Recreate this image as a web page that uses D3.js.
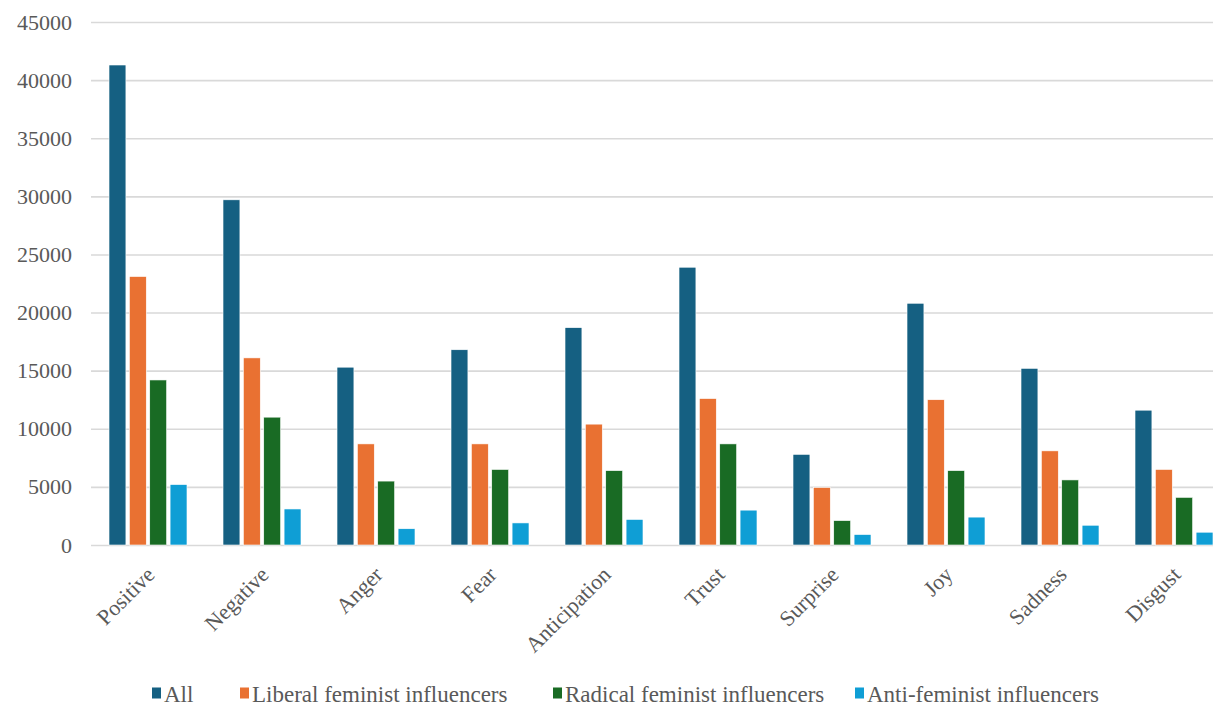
<!DOCTYPE html>
<html>
<head>
<meta charset="utf-8">
<script src="https://cdn.jsdelivr.net/npm/d3@7"></script>
<style>
  html, body { margin: 0; padding: 0; background: #fff; }
  svg { display: block; }
  svg text { font-family: "Liberation Serif", "Times New Roman", serif !important; }
</style>
</head>
<body>
<svg id="chart" width="1215" height="706"></svg>
<script>
// Emotion categories along the x axis
const categories = ["Positive", "Negative", "Anger", "Fear", "Anticipation",
                    "Trust", "Surprise", "Joy", "Sadness", "Disgust"];

// Series names (legend order)
const seriesNames = ["All", "Liberal feminist influencers",
                     "Radical feminist influencers", "Anti-feminist influencers"];

// Word counts per category for each series
const allValues     = [41300, 29700, 15300, 16800, 18700, 23900, 7800, 20800, 15200, 11600];
const liberalValues = [23100, 16100, 8700, 8700, 10400, 12600, 4950, 12500, 8100, 6500];
const radicalValues = [14200, 11000, 5500, 6500, 6400, 8700, 2100, 6400, 5600, 4100];
const antiValues    = [5200, 3100, 1400, 1900, 2200, 3000, 900, 2400, 1700, 1100];

const yTicks = [0, 5000, 10000, 15000, 20000, 25000, 30000, 35000, 40000, 45000];

const colors = ["#156082", "#E97132", "#196B24", "#0F9ED5"];
const TEXT_COLOR = "#595959";

const seriesValues = [allValues, liberalValues, radicalValues, antiValues];
const rows = categories.map((c, i) => ({
  category: c,
  values: seriesNames.map((s, j) => ({ series: s, value: seriesValues[j][i], idx: j }))
}));

const svg = d3.select("#chart");
const plotLeft = 91, gridRight = 1213;
const plotTop = 22, plotBottom = 545;

const x = d3.scaleBand()
  .domain(categories)
  .range([plotLeft, plotLeft + 10 * 114])
  .paddingInner(0.316)
  .paddingOuter(0.158);

const xInner = d3.scaleBand()
  .domain(seriesNames)
  .range([0, x.bandwidth()])
  .paddingInner(0.17);

const y = d3.scaleLinear()
  .domain([0, 45000])
  .range([plotBottom, plotTop]);

// Horizontal gridlines + y labels
const yAxis = svg.append("g")
  .attr("transform", `translate(${plotLeft},0)`)
  .call(d3.axisLeft(y).tickValues(yTicks).tickSize(-(gridRight - plotLeft)).tickPadding(19).tickFormat(d3.format("d")));
yAxis.select(".domain").remove();
yAxis.selectAll(".tick line").attr("stroke", "#d9d9d9").attr("stroke-width", 1.6);
yAxis.selectAll(".tick text").style("font-size", "22px").attr("fill", TEXT_COLOR);

// Bars
const groups = svg.append("g").selectAll("g")
  .data(rows)
  .join("g")
  .attr("transform", d => `translate(${x(d.category)},0)`);

groups.selectAll("rect")
  .data(d => d.values)
  .join("rect")
  .attr("x", d => xInner(d.series))
  .attr("y", d => y(d.value))
  .attr("width", xInner.bandwidth())
  .attr("height", d => y(0) - y(d.value))
  .attr("fill", d => colors[d.idx])
  .attr("stroke", "#ffffff")
  .attr("stroke-width", 0.6);

// Rotated category labels
const xAxis = svg.append("g")
  .attr("transform", `translate(0,${y(0)})`)
  .call(d3.axisBottom(x).tickSize(0).tickPadding(0));
xAxis.select(".domain").remove();
xAxis.selectAll(".tick text")
  .style("font-size", "22px")
  .attr("fill", TEXT_COLOR)
  .attr("text-anchor", "end")
  .attr("dy", "0")
  .attr("transform", "translate(8,31) rotate(-45)");

// Legend
const legendItems = [
  { name: seriesNames[0], x: 152 },
  { name: seriesNames[1], x: 240 },
  { name: seriesNames[2], x: 553 },
  { name: seriesNames[3], x: 855 }
];
const legend = svg.append("g")
  .attr("transform", "translate(0,694)");
const li = legend.selectAll("g")
  .data(legendItems)
  .join("g")
  .attr("transform", d => `translate(${d.x},0)`);
li.append("rect")
  .attr("x", 0).attr("y", -6.5)
  .attr("width", 9).attr("height", 11)
  .attr("fill", (d, i) => colors[i]);
li.append("text")
  .attr("x", 12).attr("y", 0).attr("dy", "0.35em")
  .style("font-size", "23px")
  .attr("fill", TEXT_COLOR)
  .text(d => d.name);
</script>
</body>
</html>
